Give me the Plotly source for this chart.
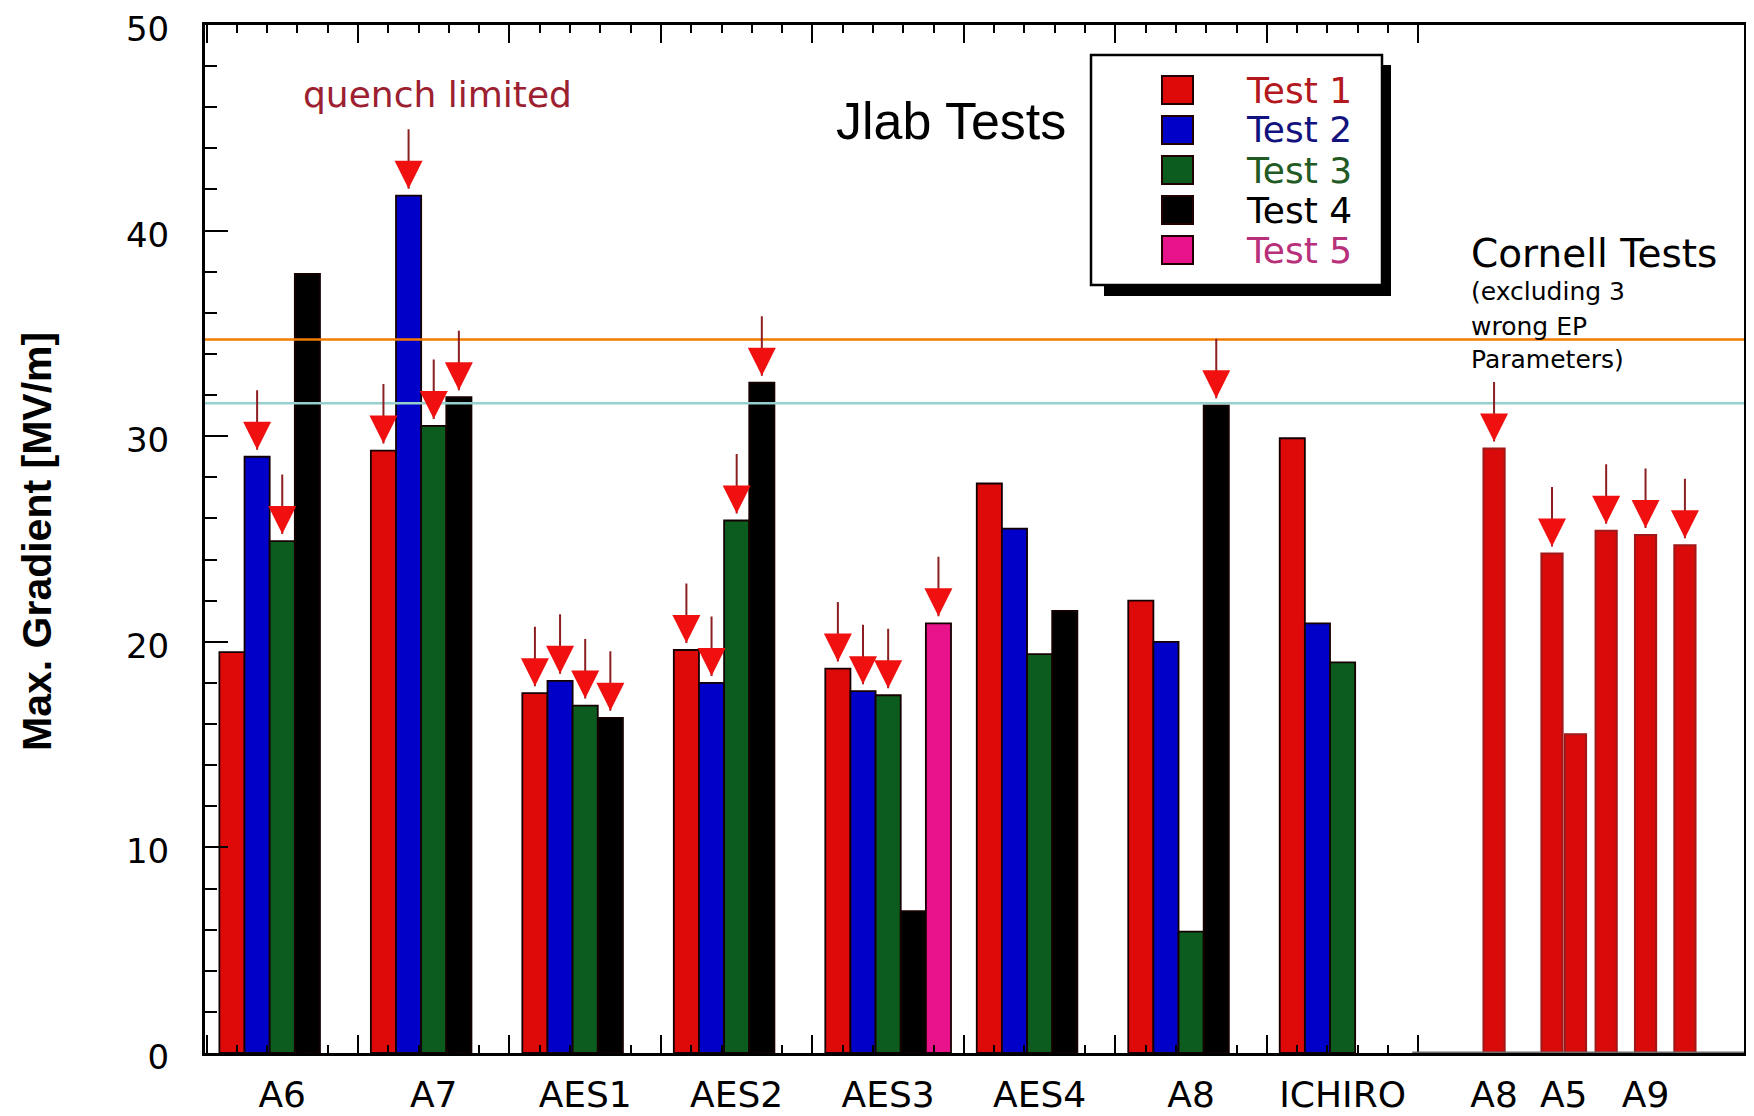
import numpy as np
import plotly.graph_objects as go

# ---------------- data ----------------
cavities = ["A6", "A7", "AES1", "AES2", "AES3", "AES4", "A8", "ICHIRO"]
test_names = ["Test 1", "Test 2", "Test 3", "Test 4", "Test 5"]
test1 = [19.5, 29.3, 17.5, 19.6, 18.7, 27.7, 22.0, 29.9]
test2 = [29.0, 41.7, 18.1, 18.0, 17.6, 25.5, 20.0, 20.9]
test3 = [24.9, 30.5, 16.9, 25.9, 17.4, 19.4, 5.9, 19.0]
test4 = [37.9, 31.9, 16.3, 32.6, 6.9, 21.5, 31.5, None]
test5 = [None, None, None, None, 20.9, None, None, None]
# quench-limited flags (red arrows)
quench1 = [0, 1, 1, 1, 1, 0, 0, 0]
quench2 = [1, 1, 1, 1, 1, 0, 0, 0]
quench3 = [1, 1, 1, 1, 1, 0, 0, 0]
quench4 = [0, 1, 1, 1, 0, 0, 1, 0]
quench5 = [0, 0, 0, 0, 1, 0, 0, 0]

cornell_cavities = ["A8", "A5", "A9"]
cornell_values = [[29.4], [24.3, 15.5], [25.4, 25.2, 24.7]]
cornell_quench = [[1], [1, 0], [1, 1, 1]]

ref_high = 34.7
ref_low = 31.6
y_ticks = [0, 10, 20, 30, 40, 50]

tests = [test1, test2, test3, test4, test5]
quench = [quench1, quench2, quench3, quench4, quench5]

# ---------------- styles / layout ----------------
W, H = 1754, 1116
PAGE_OFF = 8                     # default body margin of the html page
L, R, T, B = 205, 1744, 25, 1053  # plot area in screen pixels
bar_colors = ["#de0a0a", "#0000c8", "#0b5c1e", "#000000", "#e8128a"]
text_colors = ["#b3181e", "#12127e", "#235a23", "#000000", "#b8307a"]
cornell_color = "#d80a0a"
n_slots = 5
slot_w = 0.166
cornell_centers = [8.0, 8.46, 9.0]
cornell_pitch = [0.0, 0.155, 0.26]
cornell_w = 0.14
xr = [-0.51, 9.65]
FONT = "DejaVu Sans"


def px(xp):
    return (xp - L) / (R - L)


def py(yp):
    return (B - yp) / (B - T)


def arrow(x, y, xref):
    return [
        dict(x=x, y=y, xref=xref, yref="y", ax=0, ay=-68, text="", showarrow=True,
             arrowhead=0, arrowwidth=2, arrowcolor="#8c1f22", standoff=7),
        dict(x=x, y=y, xref=xref, yref="y", ax=0, ay=-27, text="", showarrow=True,
             arrowhead=2, arrowsize=5.6, arrowwidth=1, arrowcolor="#f01010", standoff=7),
    ]


fig = go.Figure()
annotations = []

group_x = np.arange(len(cavities))
for k, vals in enumerate(tests):
    off = -n_slots * slot_w / 2 + k * slot_w
    fig.add_trace(go.Bar(
        x=group_x, y=vals, name=test_names[k],
        width=slot_w, offset=off,
        marker=dict(color=bar_colors[k], line=dict(color="#150000", width=1.8)),
        showlegend=False,
    ))
    for i, v in enumerate(vals):
        if v is not None and quench[k][i]:
            annotations += arrow(group_x[i] + off + slot_w / 2, v, "x")

# Cornell tests
cx, cy = [], []
for c, vals in enumerate(cornell_values):
    n = len(vals)
    for j, v in enumerate(vals):
        xc = cornell_centers[c] + (j - (n - 1) / 2) * cornell_pitch[c]
        cx.append(xc)
        cy.append(v)
        if cornell_quench[c][j]:
            annotations += arrow(xc, v, "x2")
fig.add_trace(go.Bar(
    x=cx, y=cy, xaxis="x2", yaxis="y", width=cornell_w,
    marker=dict(color=cornell_color, line=dict(color="#a01818", width=2)),
    showlegend=False, name="Cornell",
))

# text annotations
annotations.append(dict(x=px(437), y=py(95), xref="paper", yref="paper", text="quench limited",
                        showarrow=False, font=dict(family=FONT, size=36, color="#9c2030"),
                        xanchor="center", yanchor="middle"))
annotations.append(dict(x=px(951), y=py(121), xref="paper", yref="paper", text="Jlab Tests",
                        showarrow=False, font=dict(family="Liberation Sans", size=52, color="black"),
                        xanchor="center", yanchor="middle"))
annotations.append(dict(x=px(1469), y=py(254), xref="paper", yref="paper", text="Cornell Tests",
                        showarrow=False, font=dict(family=FONT, size=39, color="black"),
                        xanchor="left", yanchor="middle"))
for txt, yy in [("(excluding 3", 292), ("wrong EP", 327), ("Parameters)", 360)]:
    annotations.append(dict(x=px(1469), y=py(yy), xref="paper", yref="paper", text=txt,
                            showarrow=False, font=dict(family=FONT, size=25, color="black"),
                            xanchor="left", yanchor="middle"))
# y-axis title
annotations.append(dict(x=px(37), y=py(542), xref="paper", yref="paper",
                        text="<b>Max. Gradient [MV/m]</b>", textangle=-90, showarrow=False,
                        font=dict(family="Liberation Sans", size=41, color="black"),
                        xanchor="center", yanchor="middle"))

# manual legend
shapes = []
shapes.append(dict(type="rect", xref="paper", yref="paper", x0=px(1104), x1=px(1391),
                   y0=py(296), y1=py(65), fillcolor="black", line=dict(width=0), layer="above"))
shapes.append(dict(type="rect", xref="paper", yref="paper", x0=px(1091), x1=px(1382),
                   y0=py(285), y1=py(55), fillcolor="white", line=dict(color="black", width=2.5),
                   layer="above"))
rows = [90, 130, 170, 210, 250]
for j, yc in enumerate(rows):
    shapes.append(dict(type="rect", xref="paper", yref="paper", x0=px(1162), x1=px(1193),
                       y0=py(yc + 14), y1=py(yc - 14), fillcolor=bar_colors[j],
                       line=dict(color="#200000", width=2), layer="above"))
    annotations.append(dict(x=px(1244), y=py(yc), xref="paper", yref="paper", text=test_names[j],
                            showarrow=False, font=dict(family=FONT, size=36, color=text_colors[j]),
                            xanchor="left", yanchor="middle"))

# reference lines
shapes.append(dict(type="line", xref="paper", yref="y", x0=0, x1=1, y0=ref_high, y1=ref_high,
                   line=dict(color="#f27a00", width=2.6), layer="above"))
shapes.append(dict(type="line", xref="paper", yref="y", x0=0, x1=1, y0=ref_low, y1=ref_low,
                   line=dict(color="#96d0cc", width=2.4), layer="above"))
# grey baseline of the Cornell section
shapes.append(dict(type="line", xref="x", yref="y", x0=7.46, x1=xr[1], y0=0, y1=0,
                   line=dict(color="#6e6e6e", width=3), layer="above"))

major_x = list(np.arange(-0.5, 7.51, 1.0))
minor_x = [v for v in np.arange(-0.5, 7.35, 0.2) if abs(v - round(v - 0.5) - 0.5) > 0.05]

fig.update_layout(
    width=W, height=H,
    margin=dict(l=L - PAGE_OFF, r=W - (R - PAGE_OFF), t=T - PAGE_OFF, b=H - (B - PAGE_OFF)),
    paper_bgcolor="white", plot_bgcolor="white",
    barmode="overlay",
    showlegend=False,
    annotations=annotations,
    shapes=shapes,
    xaxis=dict(range=xr, showline=True, linecolor="black", linewidth=3, mirror="allticks",
               ticks="inside", tickmode="array", tickvals=major_x, ticklen=18, tickwidth=2,
               tickcolor="black", showticklabels=False, showgrid=False, zeroline=False,
               automargin=False,
               minor=dict(tickmode="array", tickvals=minor_x, ticks="inside", ticklen=8,
                          tickwidth=2, tickcolor="black", showgrid=False)),
    xaxis2=dict(range=xr, overlaying="x", anchor="y", side="bottom", showline=False,
                ticks="", tickmode="array",
                tickvals=list(group_x) + cornell_centers,
                ticktext=cavities + cornell_cavities,
                tickfont=dict(family=FONT, size=36, color="black"),
                ticklabelstandoff=17, ticklabeloverflow="allow",
                showgrid=False, zeroline=False, automargin=False),
    yaxis=dict(range=[0, 50], showline=True, linecolor="black", linewidth=3, mirror=True,
               ticks="inside", tickmode="array", tickvals=y_ticks, ticklen=23, tickwidth=2,
               tickcolor="black", showgrid=False, zeroline=False, automargin=False,
               tickfont=dict(family=FONT, size=34, color="black"), ticklabelstandoff=26,
               ticklabelshift=4, ticklabeloverflow="allow",
               minor=dict(dtick=2, ticks="inside", ticklen=12, tickwidth=2, tickcolor="black",
                          showgrid=False)),
    yaxis3=dict(range=[0, 50], overlaying="y", side="right", anchor="x", showline=False,
                ticks="inside", tickmode="array", tickvals=list(range(0, 51, 2)), ticklen=9,
                tickwidth=2, tickcolor="black", showticklabels=False, showgrid=False,
                zeroline=False, automargin=False),
    yaxis4=dict(range=[0, 50], overlaying="y", side="left", anchor="free", position=px(1395),
                showline=False, ticks="inside", tickmode="array", tickvals=[10, 20, 30, 40],
                ticklen=8, tickwidth=2, tickcolor="black", showticklabels=False,
                showgrid=False, zeroline=False, automargin=False),
)

fig.write_html("out.html")
